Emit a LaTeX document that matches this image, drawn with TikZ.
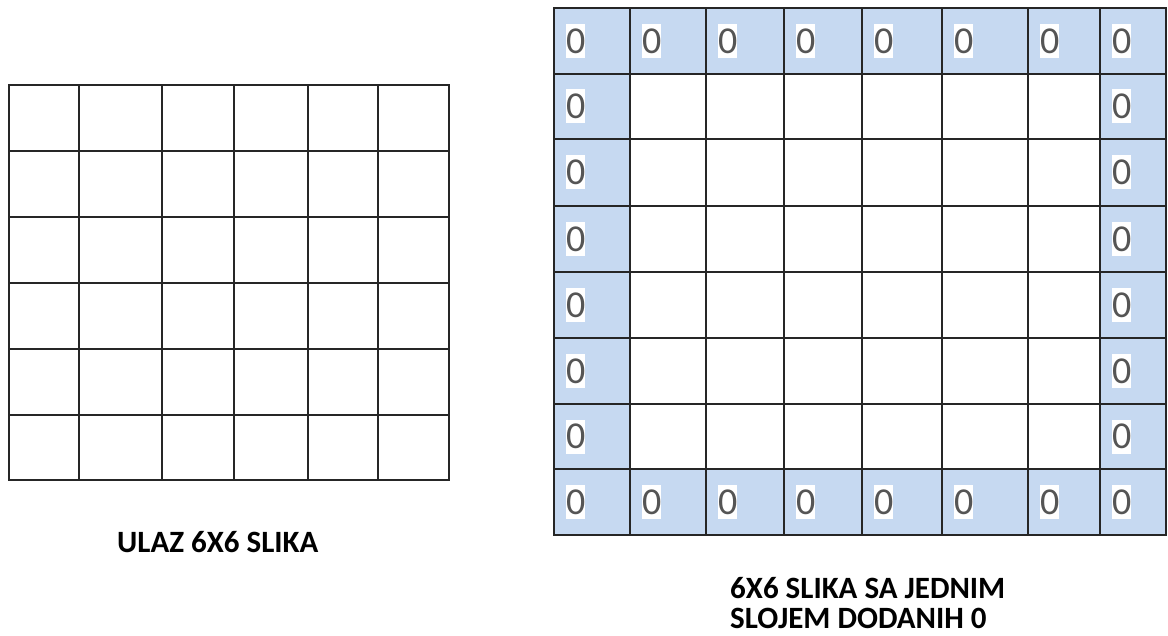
\documentclass[tikz,border=0pt]{standalone}
\usepackage{fontspec}
\setmainfont{Carlito}
\definecolor{padblue}{HTML}{C6D9F1}
\definecolor{gridline}{HTML}{262626}
\definecolor{zerogray}{HTML}{555555}
\begin{document}
\begin{tikzpicture}[x=1pt,y=-1pt,
  gridl/.style={draw=gridline,line width=2pt},
  zero/.style={fill=white,text=zerogray,font=\fontsize{38}{38}\selectfont,inner sep=0pt,minimum width=19pt,minimum height=34pt,anchor=west},
  caption/.style={font=\bfseries\fontsize{31}{31}\selectfont,text=black,inner sep=0pt}]
\useasboundingbox (0,0) rectangle (1168,636);
% ---------- left 6x6 grid ----------
\foreach \x in {79,162,234,308,378}
  \draw[gridl] (\x,85) -- (\x,480);
\foreach \y in {151,217,283,349,415}
  \draw[gridl] (9,\y) -- (449,\y);
\draw[gridl] (9,85) rectangle (449,480);
\node[caption,anchor=base west] (lblin) at (117,552) {ULAZ 6X6 SLIKA};
% ---------- right 8x8 padded grid ----------
\fill[padblue] (554,8) rectangle (1166,535);
\fill[white] (630,74) rectangle (1100,469);
\foreach \x in {630,706,784,862,942,1028,1100}
  \draw[gridl] (\x,8) -- (\x,535);
\foreach \y in {74,139,206,272,338,404,469}
  \draw[gridl] (554,\y) -- (1166,\y);
\draw[gridl] (554,8) rectangle (1166,535);
% zeros: top and bottom rows
\foreach \c/\x in {1/554,2/630,3/706,4/784,5/862,6/942,7/1028,8/1100}{
  \node[zero] (zt\c) at (\x+12,41) {0};
  \node[zero] (zb\c) at (\x+12,502) {0};
}
% zeros: left and right columns
\foreach \r/\y in {2/106.5,3/172.5,4/239,5/305,6/371,7/436.5}{
  \node[zero] (zl\r) at (566,\y) {0};
  \node[zero] (zr\r) at (1112,\y) {0};
}
\node[caption,anchor=base west] (lblpad1) at (730,598) {6X6 SLIKA SA JEDNIM};
\node[caption,anchor=base west] (lblpad2) at (730,628) {SLOJEM DODANIH 0};
\end{tikzpicture}
\end{document}
